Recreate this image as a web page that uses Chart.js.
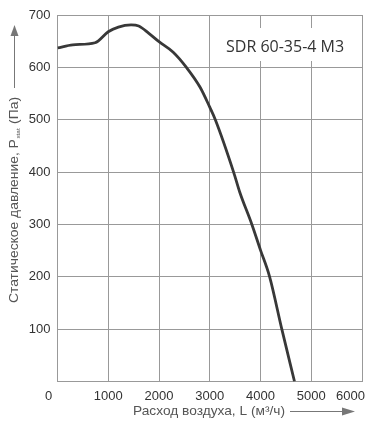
<!DOCTYPE html>
<html>
<head>
<meta charset="utf-8">
<script src="https://cdn.jsdelivr.net/npm/chart.js@4"></script>
<style>
  html, body { margin: 0; padding: 0; background: #fff; }
</style>
</head>
<body>
<canvas id="myChart" width="368" height="426"></canvas>
<script>
// fan curve: air flow (m3/h) vs static pressure (Pa)
const flow     = [0, 300, 740, 1000, 1200, 1450, 1600, 1800, 2000, 2280, 2540, 2810, 3000, 3110, 3470, 3590, 3830, 4000, 4180, 4420, 4670];
const pressure = [637, 643, 647, 668, 677, 681, 679, 665, 649, 629, 600, 562, 524, 500, 400, 362, 300, 251, 200, 100, 0];

const xTickLabels = ['0', '1000', '2000', '3000', '4000', '5000', '6000'];
const yTickLabels = ['', '100', '200', '300', '400', '500', '600', '700'];

const modelName = 'SDR 60-35-4 M3';
const xTitle = 'Расход воздуха, L (м³/ч)';
const yTitle = ['Статическое давление, P', 'stat', ' (Па)'];

const tickFont = '13px "Liberation Sans", Arial, sans-serif';
const titleFont = '13px "Liberation Sans", Arial, sans-serif';
const subFont = '6px "Liberation Sans", Arial, sans-serif';

// titles, arrows, x labels and the model box
const extras = {
  id: 'extras',
  afterDraw(chart) {
    const { ctx, chartArea: a, scales: { x } } = chart;
    ctx.save();

    // x tick labels (first one sits left of the corner, last one pulled inside)
    ctx.font = tickFont;
    ctx.fillStyle = '#333';
    ctx.textBaseline = 'middle';
    x.ticks.forEach((t, i) => {
      let px = x.getPixelForValue(t.value);
      ctx.textAlign = 'center';
      if (i === 0) px -= 9;
      if (i === x.ticks.length - 1) { ctx.textAlign = 'right'; px += 3; }
      ctx.fillText(xTickLabels[i], px, a.bottom + 15);
    });

    // model name box
    ctx.fillStyle = '#fff';
    ctx.fillRect(217, 28, 141, 33);
    ctx.font = '16px "Open Sans", sans-serif';
    ctx.fillStyle = '#333';
    ctx.textAlign = 'left';
    ctx.fillText(modelName, 226, 47);

    // x axis title, stretched a little to its slot
    ctx.font = titleFont;
    ctx.fillStyle = '#555';
    const xw = ctx.measureText(xTitle).width;
    ctx.save();
    ctx.translate(133, 411);
    ctx.scale(152 / xw, 1);
    ctx.fillText(xTitle, 0, 0);
    ctx.restore();

    ctx.strokeStyle = '#777';
    ctx.fillStyle = '#777';
    ctx.lineWidth = 1;
    ctx.beginPath();
    ctx.moveTo(290, 411.5); ctx.lineTo(345, 411.5);
    ctx.stroke();
    ctx.beginPath();
    ctx.moveTo(355, 411.5); ctx.lineTo(342, 407.5); ctx.lineTo(342, 415.5);
    ctx.closePath(); ctx.fill();

    // y axis title with subscript
    ctx.save();
    ctx.translate(14, 200);
    ctx.rotate(-Math.PI / 2);
    ctx.font = titleFont;
    const w1 = ctx.measureText(yTitle[0]).width;
    const w3 = ctx.measureText(yTitle[2]).width;
    ctx.font = subFont;
    const w2 = ctx.measureText(yTitle[1]).width + 1;
    const total = w1 + w2 + w3;
    ctx.scale(206 / total, 1);
    const sx = -total / 2;
    ctx.fillStyle = '#555';
    ctx.textAlign = 'left';
    ctx.textBaseline = 'middle';
    ctx.font = titleFont;
    ctx.fillText(yTitle[0], sx, 0);
    ctx.font = subFont;
    ctx.fillText(yTitle[1], sx + w1 + 0.5, 4);
    ctx.font = titleFont;
    ctx.fillText(yTitle[2], sx + w1 + w2, 0);
    ctx.restore();

    // y arrow
    ctx.beginPath();
    ctx.moveTo(14.5, 88); ctx.lineTo(14.5, 32);
    ctx.stroke();
    ctx.beginPath();
    ctx.moveTo(14.5, 25); ctx.lineTo(10.5, 36); ctx.lineTo(18.5, 36);
    ctx.closePath(); ctx.fill();

    ctx.restore();
  }
};

const ctx = document.getElementById('myChart');

new Chart(ctx, {
  type: 'line',
  data: {
    datasets: [{
      data: flow.map((f, i) => ({ x: f, y: pressure[i] })),
      borderColor: '#383838',
      borderWidth: 2.8,
      pointRadius: 0,
      cubicInterpolationMode: 'monotone',
      fill: false
    }]
  },
  options: {
    responsive: false,
    animation: false,
    layout: { padding: { top: 15, right: 6, bottom: 0, left: 0 } },
    plugins: {
      legend: { display: false },
      tooltip: { enabled: false }
    },
    scales: {
      x: {
        type: 'linear',
        min: 0,
        max: 6000,
        afterFit: s => { s.height = 44.5; },
        border: { color: '#999', width: 1 },
        grid: { color: '#999', lineWidth: 1, drawTicks: false },
        ticks: { stepSize: 1000, display: false }
      },
      y: {
        min: 0,
        max: 700,
        afterFit: s => { s.width = 57.5; },
        border: { color: '#999', width: 1 },
        grid: { color: '#999', lineWidth: 1, drawTicks: false },
        ticks: {
          stepSize: 100,
          padding: 7,
          color: '#333',
          font: { family: '"Liberation Sans", Arial, sans-serif', size: 13 },
          callback: (v, i) => yTickLabels[i]
        }
      }
    }
  },
  plugins: [extras]
});
</script>
</body>
</html>
